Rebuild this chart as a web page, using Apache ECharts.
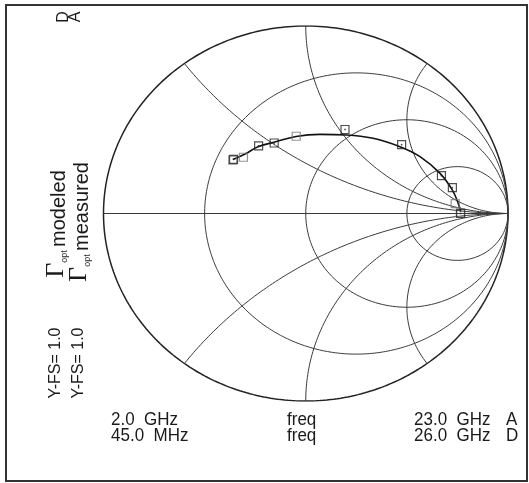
<!DOCTYPE html>
<html><head><meta charset="utf-8">
<script src="https://cdn.jsdelivr.net/npm/echarts@6/dist/echarts.min.js"></script>
<style>html,body{margin:0;padding:0;background:#fff}#c{width:529px;height:483px}</style>
</head><body><div id="c"></div>
<script>
// ---- chart data (reflection coefficient, real / imaginary) ----
const resistanceValues = [0, 1/3, 1, 3];
const reactanceValues = [0.5, 1, 2];
const modeledRe = [-0.360, -0.300, -0.236, -0.157, -0.048, 0.070, 0.202, 0.333, 0.466, 0.565, 0.664, 0.725, 0.754, 0.766];
const modeledIm = [0.288, 0.317, 0.356, 0.380, 0.411, 0.422, 0.419, 0.401, 0.356, 0.303, 0.214, 0.125, 0.054, 0.010];
const modeledMarkRe = [-0.361, -0.308, -0.047, 0.739, 0.764];
const modeledMarkIm = [0.285, 0.300, 0.412, 0.053, 0.004];
const measuredRe = [-0.357, -0.233, -0.156, 0.194, 0.474, 0.671, 0.725, 0.766];
const measuredIm = [0.289, 0.361, 0.376, 0.448, 0.367, 0.202, 0.138, 0.000];
const traceNames = ['modeled', 'measured'];
const traceIds = ['A', 'D'];
const fullScaleLabels = ['Y-FS= 1.0', 'Y-FS= 1.0'];
const startLabels = ['2.0  GHz', '45.0  MHz'];
const sweepLabels = ['freq', 'freq'];
const stopLabels = ['23.0  GHz', '26.0  GHz'];

// ---- build Smith chart grid from the r / x values ----
function rCircle(r) {
  const c = r / (1 + r), rad = 1 / (1 + r), pts = [];
  for (let i = 0; i <= 360; i++) {
    const t = i * Math.PI / 180;
    pts.push([c + rad * Math.cos(t), rad * Math.sin(t)]);
  }
  return pts;
}
function xArc(x, sign) {
  const rad = 1 / x, px = (x * x - 1) / (x * x + 1), py = 2 * x / (x * x + 1);
  const a0 = Math.atan2(py - rad, px - 1);
  const a1 = a0 > 0 ? 1.5 * Math.PI : -0.5 * Math.PI;
  const pts = [], n = 200;
  for (let i = 0; i <= n; i++) {
    const t = a0 + (a1 - a0) * i / n;
    pts.push([1 + rad * Math.cos(t), sign * (rad + rad * Math.sin(t))]);
  }
  return pts;
}
const gridColor = '#3a3a3a';
const series = [];
resistanceValues.forEach(r => series.push({
  type: 'line', data: rCircle(r), showSymbol: false, silent: true,
  lineStyle: { color: r === 0 ? '#222' : gridColor, width: r === 0 ? 1.5 : 1 }, z: 1
}));
reactanceValues.forEach(x => [1, -1].forEach(s => series.push({
  type: 'line', data: xArc(x, s), showSymbol: false, silent: true,
  lineStyle: { color: gridColor, width: 1 }, z: 1
})));
series.push({ type: 'line', data: [[-1, 0], [1, 0]], showSymbol: false, silent: true,
  lineStyle: { color: gridColor, width: 1 }, z: 1 });

series.push({
  type: 'line', name: traceNames[0], smooth: 0.4, showSymbol: false,
  data: modeledRe.map((v, i) => [v, modeledIm[i]]),
  lineStyle: { color: '#111', width: 1.6 }, z: 3
});
series.push({
  type: 'scatter', symbol: 'rect', symbolSize: 8,
  data: modeledMarkRe.map((v, i) => [v, modeledMarkIm[i]]),
  itemStyle: { color: 'rgba(0,0,0,0)', borderColor: '#777', borderWidth: 1.2 }, z: 4
});
series.push({
  type: 'scatter', name: traceNames[1], symbol: 'rect', symbolSize: 8,
  data: measuredRe.map((v, i) => [v, measuredIm[i]]),
  itemStyle: { color: 'rgba(0,0,0,0)', borderColor: '#222', borderWidth: 1.2 }, z: 5
});
series.push({
  type: 'scatter', symbol: 'rect', symbolSize: 1.6,
  data: measuredRe.map((v, i) => [v, measuredIm[i]]),
  itemStyle: { color: '#222' }, z: 5
});

const font = '"Liberation Sans", Arial, sans-serif';
const txtColor = '#1a1a1a';
const graphics = [
  { type: 'rect', shape: { x: 6, y: 5, width: 521, height: 476 },
    style: { fill: 'none', stroke: '#333', lineWidth: 2 } }
];
const colX = [56, 79];
const nameY = [224, 222];
traceNames.forEach((n, i) => {
  graphics.push({
    type: 'text', x: colX[i], y: nameY[i], rotation: Math.PI / 2,
    style: {
      text: '{g|Γ}{s|opt} {t|' + n + '}', align: 'center', verticalAlign: 'middle',
      fill: txtColor,
      rich: {
        g: { fontFamily: '"Liberation Serif", "Times New Roman", serif', fontSize: 26, fill: txtColor, verticalAlign: 'bottom' },
        s: { fontFamily: font, fontSize: 9, fill: txtColor, verticalAlign: 'bottom' },
        t: { fontFamily: font, fontSize: 20, fill: txtColor, verticalAlign: 'bottom' }
      }
    }
  });
  graphics.push({
    type: 'text', x: colX[i], y: 363, rotation: Math.PI / 2,
    style: { text: fullScaleLabels[i], font: '16px ' + font, fill: txtColor,
      align: 'center', verticalAlign: 'middle' }
  });
});
// trace ids at top of the legend columns
graphics.push({ type: 'text', x: 64, y: 17, rotation: Math.PI / 2,
  style: { text: traceIds[1], font: '16px ' + font, fill: txtColor, align: 'center', verticalAlign: 'middle' } });
graphics.push({ type: 'text', x: 76, y: 17, rotation: Math.PI / 2,
  style: { text: traceIds[0], font: '16px ' + font, fill: txtColor, align: 'center', verticalAlign: 'middle' } });

const rowY = [420, 436];
const rowIds = [traceIds[0], traceIds[1]];
for (let i = 0; i < 2; i++) {
  const common = { y: rowY[i], scaleY: 1.1 };
  graphics.push(Object.assign({ type: 'text', x: 111,
    style: { text: startLabels[i], font: '17px ' + font, fill: txtColor, verticalAlign: 'middle' } }, common));
  graphics.push(Object.assign({ type: 'text', x: 287,
    style: { text: sweepLabels[i], font: '17px ' + font, fill: txtColor, verticalAlign: 'middle' } }, common));
  graphics.push(Object.assign({ type: 'text', x: 414,
    style: { text: stopLabels[i], font: '17px ' + font, fill: txtColor, verticalAlign: 'middle' } }, common));
  graphics.push(Object.assign({ type: 'text', x: 506,
    style: { text: rowIds[i], font: '17px ' + font, fill: txtColor, verticalAlign: 'middle' } }, common));
}

const chart = echarts.init(document.getElementById('c'));
chart.setOption({
  animation: false,
  backgroundColor: '#fff',
  grid: { left: 103.5, top: 26, width: 404.5, height: 375 },
  xAxis: { type: 'value', min: -1, max: 1, show: false },
  yAxis: { type: 'value', min: -1, max: 1, show: false },
  series: series,
  graphic: graphics
});
</script>
</body></html>
